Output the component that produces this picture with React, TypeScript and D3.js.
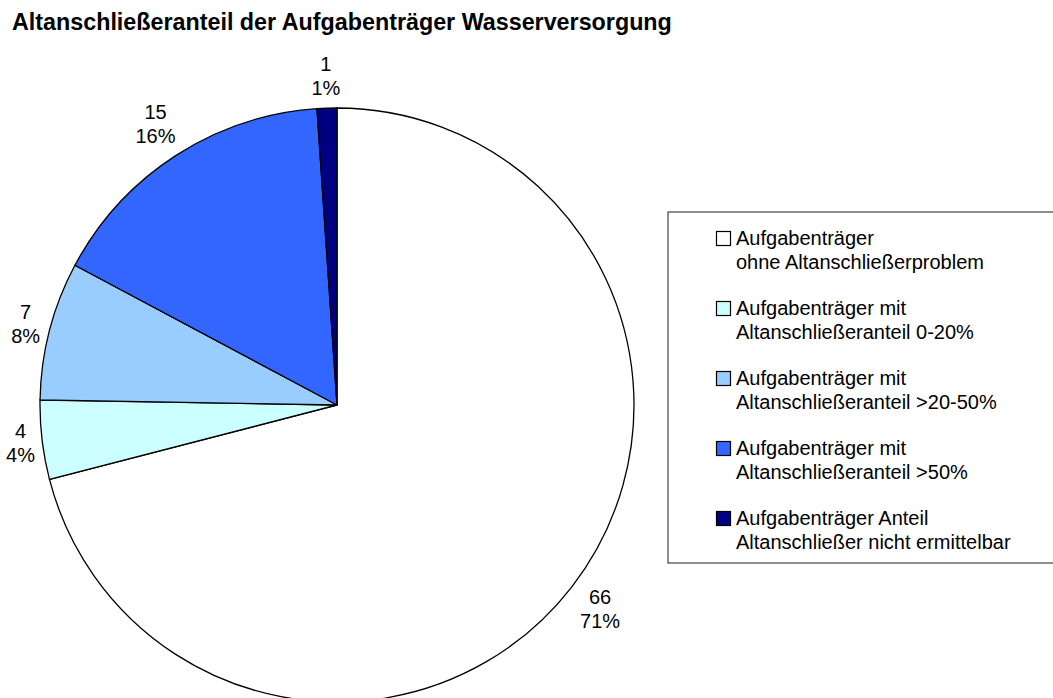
import React from "react";
import * as d3 from "d3";

const title = "Altanschließeranteil der Aufgabenträger Wasserversorgung";
const categories = [
  ["Aufgabenträger", "ohne Altanschließerproblem"],
  ["Aufgabenträger mit", "Altanschließeranteil 0-20%"],
  ["Aufgabenträger mit", "Altanschließeranteil >20-50%"],
  ["Aufgabenträger mit", "Altanschließeranteil >50%"],
  ["Aufgabenträger Anteil", "Altanschließer nicht ermittelbar"],
];
const values = [66, 4, 7, 15, 1];
const colors = ["#FFFFFF", "#CCFFFF", "#99CCFF", "#3366FF", "#000080"];

const W = 1053;
const H = 698;
const cx = 337;
const cy = 405;
const R = 297;
const FONT = "'Liberation Sans', Arial, sans-serif";

export default function App() {
  const total = d3.sum(values);
  const pie = d3.pie<number>().sort(null).value((d) => d)(values);
  const arc = d3.arc<d3.PieArcDatum<number>>().innerRadius(0).outerRadius(R);

  const legendX = 668;
  const legendY = 212;
  const rowH = 70;

  return (
    <svg width={W} height={H} style={{ position: "absolute", left: 0, top: 0, fontFamily: FONT }}>
      <rect x={0} y={0} width={W} height={H} fill="#fff" />
      <text x={12} y={30} fontSize={23.3} fontWeight="bold" fill="#000">
        {title}
      </text>
      <g transform={`translate(${cx},${cy})`}>
        {pie.map((p, i) => (
          <path key={i} d={arc(p) || ""} fill={colors[i]} stroke="#000" strokeWidth={1.3} />
        ))}
        {pie.map((p, i) => {
          const a = (p.startAngle + p.endAngle) / 2;
          const pct = Math.round((values[i] / total) * 100) + "%";
          const w = Math.max(String(values[i]).length, pct.length) * 11;
          const h = 48;
          const dist = R + 8 + Math.abs(Math.sin(a)) * (w / 2) + Math.abs(Math.cos(a)) * (h / 2);
          const x = Math.sin(a) * dist;
          const y = -Math.cos(a) * dist;
          return (
            <text key={i} x={x} y={y} textAnchor="middle" fontSize={20} fill="#000">
              <tspan x={x} dy={-5}>{values[i]}</tspan>
              <tspan x={x} dy={24}>{pct}</tspan>
            </text>
          );
        })}
      </g>
      <rect x={legendX} y={legendY} width={W - legendX + 10} height={351} fill="#fff" stroke="#444" strokeWidth={1.2} />
      {categories.map((c, i) => {
        const y0 = legendY + 26 + i * rowH;
        return (
          <g key={i}>
            <rect x={716.5} y={y0 - 6.5} width={14} height={14} fill={colors[i]} stroke="#000" strokeWidth={1.2} />
            <text x={736} y={y0 + 7} fontSize={20} fill="#000">
              {c[0]}
            </text>
            <text x={736} y={y0 + 31} fontSize={20} fill="#000">
              {c[1]}
            </text>
          </g>
        );
      })}
    </svg>
  );
}
